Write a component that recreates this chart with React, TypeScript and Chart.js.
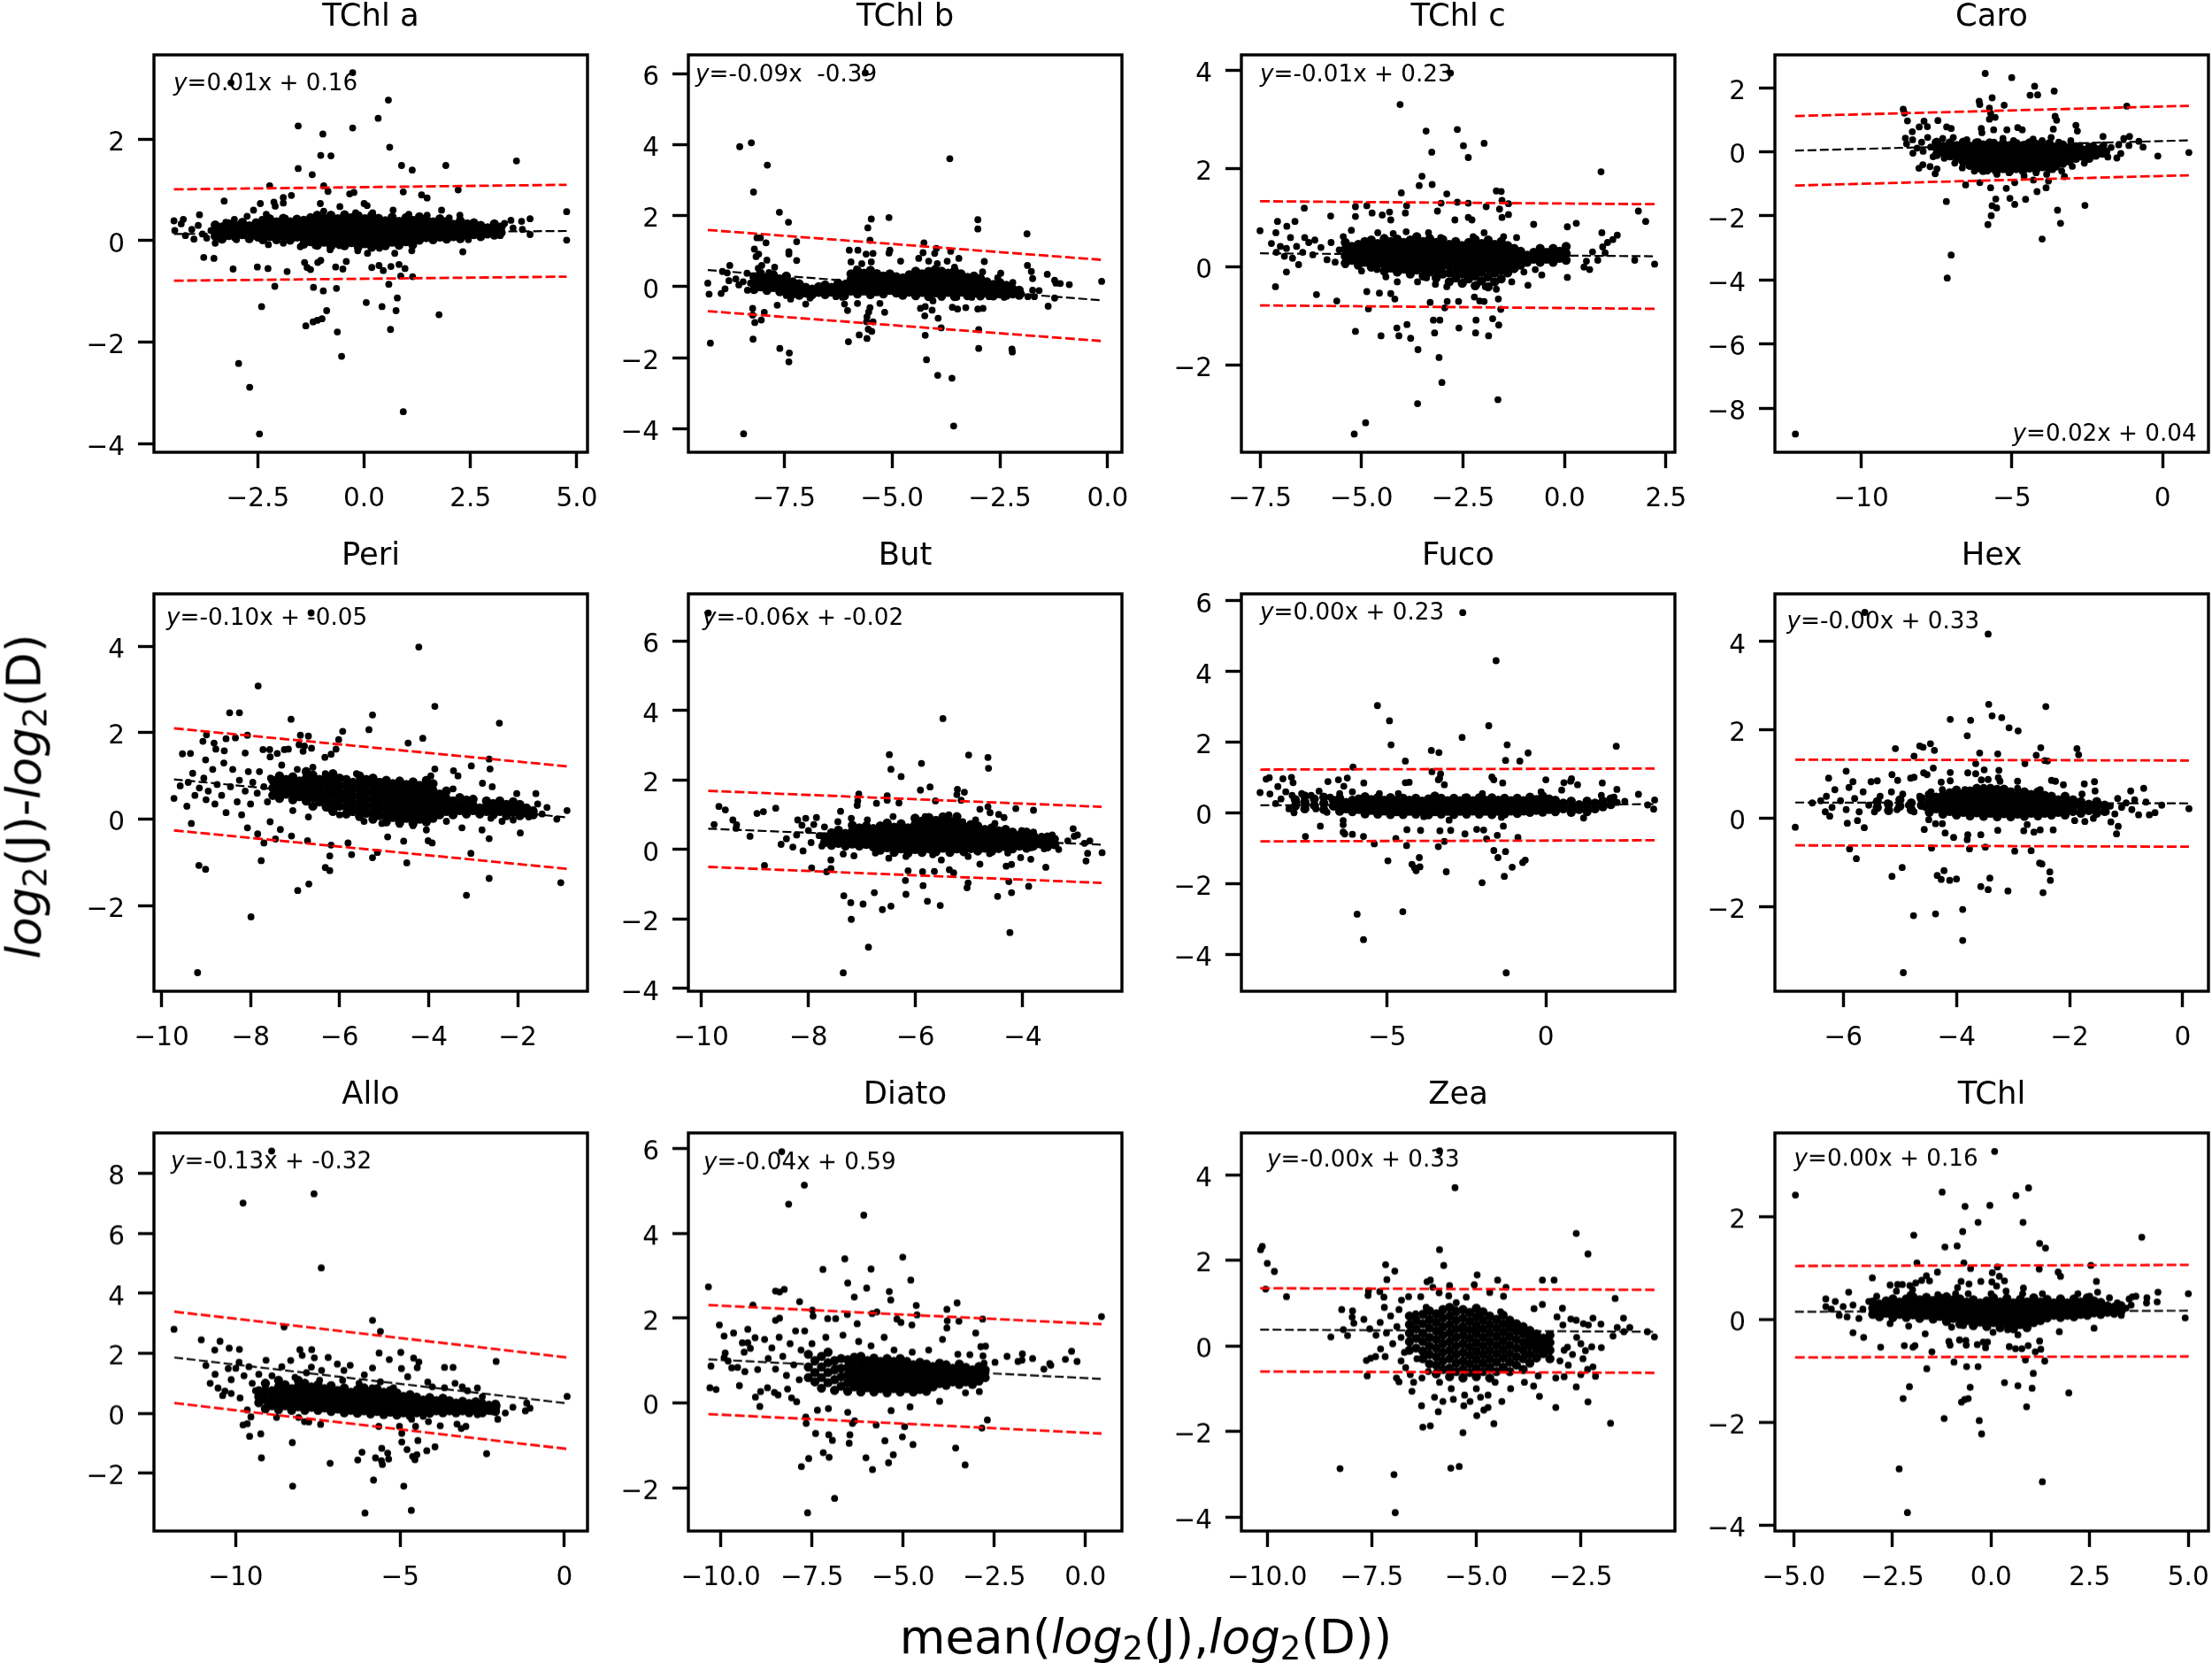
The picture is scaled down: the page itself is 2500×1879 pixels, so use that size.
import React, { useEffect, useRef } from "react";
import { Chart, registerables } from "chart.js";
Chart.register(...registerables);

const FONT = '"DejaVu Sans", sans-serif';
type P = { name: string; eq: string; ax: number; ay: number; col: number; row: number; xr: number[]; yr: number[]; xt: number[]; yt: number[]; dec: number; lx: number[]; b: number[]; u: number[]; l: number[]; pts: number[][]; core: number[][] };
const colL = [174, 778, 1403, 2005.5];
const rowT = [61.5, 670.5, 1280];
const W = 490, H = 449.5;

// Arrays named after a pigment: points (outliers and fringe are the most exact).
// Arrays ending in "Core": [x, y1, y2, ...] columns typed by hand to cover the solid black regions, where single
// points cannot be told apart. They follow the outline of each region and are NOT individual readings.

const tchlA = [[-.27,3.31],[-3.13,3.11],[.57,2.77],[.33,2.41],[-1.55,2.26],[-.27,2.22],[-.97,2.1],[.6,1.84],[-1.02,1.68],[-.78,1.67],[3.58,1.57],[.88,1.48],[1.92,1.48],[1.13,1.39],[-1.55,1.42],[-1.22,1.3],[-2.22,1.08],[-.95,1.08],[2.21,1],[-.85,.97],[.92,.96],[-.34,.92],[-.24,.95],[1.35,.9],[1.48,.84],[-1.71,.89],[-1.9,.85],[-3.29,.78],[-2.12,.76],[-1.9,.74],[-1.03,.73],[0,.73],[.07,.69],[-2.44,.73],[-2.09,.68],[-.57,.67],[4.76,.57],[4.76,.01],[-3.77,-.33],[-3.53,-.35],[-3.08,-.56],[-2.51,-.52],[-2.26,-.55],[-1.81,-.61],[-2.1,-.9],[-1.19,-.92],[-.96,-.99],[-.65,-.94],[.58,-.86],[.86,-.7],[1.14,-.71],[.78,-1.13],[.05,-1.22],[.42,-1.3],[.75,-1.38],[-2.41,-1.3],[-.88,-1.38],[1.76,-1.46],[-.99,-1.54],[-1.1,-1.57],[-1.2,-1.6],[-1.37,-1.68],[-.63,-1.8],[.62,-1.75],[-.53,-2.28],[-2.95,-2.42],[-2.69,-2.89],[.92,-3.37],[-2.46,-3.81],[-1.4,-.43],[-1.34,-.53],[-1.26,-.57],[-1.09,-.43],[-1.02,-.39],[-.67,-.52],[-.5,-.56],[-.42,-.41],[.18,-.53],[.35,-.49],[.45,-.59],[.63,-.51],[.82,-.47],[.96,-.55],[2.32,-.22],
[-4.47,.39],[-4.45,.2],[-4.3,.33],[-4.2,.1],[-4.25,.42],[-4.05,.22],[-4,.03],[-3.9,.3],[-3.8,.13],[-3.87,.51],[-3.7,.05],[-3.6,.2],[-3.5,-.05],[-3.45,.28],[-3.3,.12],[-3.25,.36],[-3.15,.2],[-3,.02],[-3.05,.42],[-2.9,.28],[-2.85,.1],[-2.75,.48],[-2.7,.2],[-2.6,.6],[-2.55,.33],[-2.5,.05],[-2.4,.42],[-2.35,.17],[-2.25,-.08],[-2.3,.52],[-2.05,.38],[-1.9,-.05],[-1.85,.44],[-1.5,-.12],[-1.15,-.1],[-.95,.58],[-.8,-.18],[-.58,-.1],[-.2,.55],[-.15,-.2],[.08,-.25],[.2,.55],[.36,-.15],[.68,.6],[.72,-.25],[1.05,.52],[1.12,-.2],[1.48,.5],[1.82,.6],[2,.45],[2.25,.5],[2.45,.02],[3.2,.1],[3.3,.34],[3.45,.4],[3.7,.38],[3.72,.22],[3.9,.43],[3.9,.12],[3.5,.25]];
const tchlACore = [[-3.5,.09,.21,.31],[-3.34,.03,.16,.27],[-3.18,.1,.22,.33],[-3.02,.06,.18,.3],[-2.86,.12,.24,.36],[-2.7,.04,.16,.29],[-2.54,.1,.23,.35],[-2.38,.02,.13,.27,.38],[-2.22,.08,.2,.32,.43],[-2.06,.02,.15,.26,.37],[-1.9,.09,.21,.33,.44],[-1.74,.01,.13,.25,.37],[-1.58,.07,.19,.31,.42],[-1.42,-.07,.04,.16,.28,.4],[-1.26,-.02,.1,.22,.33,.45],[-1.1,-.09,.03,.15,.27,.39,.5],[-.94,-.03,.09,.21,.32,.44],[-.78,-.11,.02,.14,.26,.38,.5],[-.62,-.05,.08,.2,.32,.43],[-.46,-.1,.03,.15,.27,.39,.51],[-.3,-.04,.09,.21,.33,.45],[-.14,-.12,.01,.13,.25,.37,.49],[.02,-.06,.07,.19,.31,.43],[.18,-.13,.02,.14,.26,.38,.5],[.34,-.05,.08,.2,.32,.44],[.5,-.1,.03,.15,.27,.39],[.66,-.03,.09,.21,.33,.46],[.82,-.09,.02,.14,.26,.38],[.98,-.02,.1,.22,.34,.45],[1.14,-.08,.04,.16,.28,.4],[1.3,.01,.12,.24,.36,.47],[1.46,.06,.18,.3,.42],[1.62,.02,.13,.25,.37],[1.78,.07,.19,.31,.43],[1.94,.03,.15,.27,.38],[2.1,.08,.2,.32],[2.26,.04,.16,.28,.39],[2.42,.1,.22,.33],[2.58,.12,.24,.35],[2.74,.08,.2,.3],[2.9,.13,.25],[3.06,.11,.22,.33],[3.22,.16,.27]];

const tchlB = [[-5.62,6.03],[-8.26,4.06],[-8.53,3.95],[-3.66,3.61],[-7.89,3.43],[-8.21,2.67],[-7.61,2.1],[-7.4,1.82],[-5.48,1.91],[-5.07,1.95],[-3.01,1.89],[-3.01,1.63],[-5.56,1.66],[-1.87,1.49],[-8.13,1.38],[-8.05,1.38],[-7.92,1.24],[-7.21,1.27],[-5.51,1.31],[-4.26,1.24],[-8.19,1.06],[-8.09,.92],[-8.15,.85],[-5.99,1.03],[-5.79,1.03],[-5.05,1.03],[-5.07,.95],[-7.39,.99],[-7.39,.92],[-7.21,.74],[-3.97,1.08],[-3.64,1],[-4.28,.96],[-4.01,.94],[-5.44,.94],[-5.6,.92],[-2.86,.71],[-1.86,.6],[-1.77,.43],[-1.74,.23],[-1.4,.35],[-1.23,.18],[-1.2,.1],[-1.1,.09],[-.89,.06],[-.14,.15],[-1.59,-.11],[-1.74,-.1],[-1.23,-.32],[-1.38,-.55],[-9.27,.1],[-9.24,-.21],[-9.21,-1.59],[-8.96,-.19],[-8.87,-.06],[-8.78,.17],[-8.76,.6],[-8.93,.43],[-8.82,.39],[-8.36,.38],[-8.23,-.61],[-8.23,-.8],[-8.18,-1.01],[-8.03,-.94],[-7.96,-.72],[-8.22,-1.48],[-8.44,-4.15],[-7.6,-1.74],[-7.38,-1.87],[-7.39,-2.12],[-7.66,-.52],[-7,-.49],[-6.1,-.49],[-6.03,-.67],[-5.8,-.47],[-6.01,-1.55],[-5.76,-1.36],[-5.58,-1.46],[-5.51,-.59],[-5.54,-.71],[-5.58,-.85],[-5.59,-.99],[-5.44,-.99],[-5.55,-1.2],[-5.47,-1.26],[-5.17,-.72],[-5.28,-.47],[-4.34,-.61],[-4.23,-.56],[-4.07,-.66],[-4.24,-.82],[-3.93,-.89],[-3.86,-1.16],[-4.23,-1.37],[-4.2,-2.06],[-3.94,-2.5],[-3.61,-2.58],[-3.57,-3.93],[-3.6,-.58],[-3.48,-.63],[-3.29,-.59],[-3.01,-.63],[-2.89,-.61],[-2.99,-1.21],[-2.99,-1.74],[-2.22,-1.76],[-2.21,-1.84],
[-8.62,.22],[-8.55,.05],[-8.45,.14],[-8.35,-.1],[-8.28,.1],[-8.1,.52],[-8.02,.6],[-7.9,.75],[-7.85,.4],[-7.72,.55],[-7.45,-.25],[-7.35,-.35],[-6.9,-.32],[-6.3,-.28],[-6.15,-.3],[-5.95,.7],[-5.82,.5],[-5.7,.65],[-5.48,.7],[-4.8,.72],[-4.38,.8],[-4.15,.72],[-4.05,-.4],[-3.95,.65],[-3.85,-.3],[-3.72,.72],[-3.55,.55],[-3.5,-.3],[-3.45,.8],[-3.15,-.3],[-2.9,.42],[-2.75,-.28],[-2.55,.25],[-2.4,-.3],[-2.2,.12],[-2,-.2],[-1.85,-.28],[-1.7,-.28],[-2.48,.38]];
const tchlBCore = [[-8.2,-.08,.1,.28],[-8.05,0,.18,.38],[-7.9,-.1,.08,.26],[-7.75,-.02,.16,.34],[-7.6,-.14,.04,.22],[-7.45,-.06,.12,.3],[-7.3,-.2,-.03,.14],[-7.15,-.24,-.08,.08],[-7,-.18,-.02],[-6.85,-.22,-.07],[-6.7,-.16,0],[-6.55,-.22,-.07,.05],[-6.4,-.15,-.02],[-6.25,-.2,-.06,.1],[-6.1,-.25,-.1,.05],[-5.95,-.12,.04,.2,.36],[-5.8,-.2,-.06,.12,.3,.45],[-5.65,-.12,.05,.22,.38],[-5.5,-.22,-.05,.12,.3,.46],[-5.35,-.14,.03,.2,.37],[-5.2,-.2,-.04,.14,.3],[-5.05,-.1,.05,.22,.36],[-4.9,-.18,-.02,.15,.28],[-4.75,-.24,-.08,.08,.25],[-4.6,-.15,.02,.18,.34],[-4.45,-.25,-.08,.1,.27,.44],[-4.3,-.16,0,.18,.36],[-4.15,-.28,-.1,.08,.25,.43],[-4,-.18,-.02,.15,.32,.48],[-3.85,-.26,-.08,.1,.28,.44],[-3.7,-.16,.02,.2,.38],[-3.55,-.28,-.1,.08,.26,.45],[-3.4,-.15,.02,.2,.36],[-3.25,-.25,-.08,.1,.26],[-3.1,-.18,-.02,.15,.3],[-2.95,-.26,-.1,.08,.24],[-2.8,-.18,-.02,.14],[-2.65,-.26,-.1,.06],[-2.5,-.2,-.04,.12],[-2.35,-.24,-.1,.04],[-2.2,-.2,-.06],[-2.05,-.24,-.1]];

const tchlC = [[-2.81,3.95],[-4.05,3.31],[-2.64,2.8],[-3.41,2.77],[-1.98,2.52],[-2.49,2.47],[-3.27,2.34],[-2.37,2.23],[.9,1.94],[-3.51,1.85],[-3.58,1.66],[-3.26,1.68],[-1.68,1.55],[-1.56,1.54],[-4.02,1.51],[-2.9,1.49],[-1.54,1.36],[-2.64,1.32],[-2.37,1.3],[-3.04,1.3],[-1.38,1.29],[-5.15,1.23],[-4.87,1.25],[-3.89,1.25],[-6.41,1.2],[-1.93,1.23],[-1.6,1.18],[1.82,1.14],[-3.13,1.14],[-4.31,1.12],[-3.92,1.1],[-1.38,1.07],[-5.76,1.04],[-5.15,1.03],[-4.49,1.06],[-4.74,1.1],[-4.28,.96],[-2.37,1.01],[-1.54,1.01],[-2.7,.96],[-2.28,.96],[2,.93],[.29,.89],[-7.07,.93],[-6.64,.93],[-.76,.87],[.07,.82],[-6.84,.83],[-7.5,.74],[-7.11,.7],[.92,.7],[1.3,.65],[1.19,.56],[1.06,.5],[.94,.41],[1,.29],[.69,.31],[1.73,.14],[2.22,.06],[.48,0],[.62,-.05],[.54,.12],[.82,.14],[-.56,-.16],[.07,-.21],[-6.85,-.1],[-7.12,-.4],[-6.11,-.56],[-5.61,-.69],[-4.87,-.5],[-4.56,-.53],[-4.28,-.54],[-4.18,-.65],[-4.83,-.85],[-5.15,-1.31],[-4.52,-1.4],[-4.13,-1.24],[-4.08,-1.4],[-3.88,-1.17],[-3.79,-1.45],[-3.61,-1.68],[-3.23,-1.08],[-3.07,-1.08],[-3.2,-1.34],[-3.09,-1.84],[-3.02,-2.35],[-3.62,-2.78],[-4.9,-3.17],[-5.18,-3.4],[-1.64,-2.7],[-2.6,-1.24],[-2.18,-1.08],[-2.19,-1.34],[-1.87,-1.4],[-1.77,-1.05],[-1.62,-1.18],[-1.57,-.86],[-2.95,-.83],[-3.31,-.72],[-2.61,-.7],[-2.89,-.7],[-2.22,-.61],[-2.09,-.69],[-1.98,-.7],[-1.63,-.65],[-.9,-.37],
[-7.22,.48],[-7.1,.3],[-7,.42],[-6.9,.22],[-6.85,.38],[-6.75,.6],[-6.7,.18],[-6.6,.42],[-6.55,.05],[-6.45,.3],[-6.4,.6],[-6.3,.5],[-6.2,.25],[-6.15,.55],[-6,.4],[-5.85,.15],[-5.75,.5],[-5.65,.1],[-5.55,.35],[-5.45,.62],[-5.4,.05],[-5.25,.75],[-5,-.08],[-4.62,-.05],[-4.6,.7],[-4.4,-.2],[-4.22,.68],[-4.12,-.3],[-3.9,.72],[-3.62,-.3],[-3.4,-.22],[-3.35,.7],[-3.18,-.35],[-3.05,.6],[-2.9,-.4],[-2.48,-.3],[-2.25,.62],[-2.15,-.35],[-1.98,.7],[-1.95,-.4],[-1.68,-.45],[-1.5,.62],[-1.3,-.3],[-1.18,.6],[-1,-.1],[-.72,-.05]];
const tchlCCore = [[-5.4,.08,.22,.36,.5],[-5.24,.14,.28,.42],[-5.08,.04,.18,.32,.46],[-4.92,.1,.24,.38,.52],[-4.76,0,.13,.27,.4,.55],[-4.6,.06,.2,.34,.48],[-4.44,-.08,.05,.18,.31,.44,.58],[-4.28,-.02,.12,.25,.38,.52],[-4.12,-.1,.03,.16,.3,.43,.57],[-3.96,-.04,.1,.23,.36,.5],[-3.8,-.14,.01,.14,.28,.41,.55],[-3.64,-.06,.08,.21,.34,.48,.62],[-3.48,-.18,-.02,.12,.25,.38,.52],[-3.32,-.1,.04,.18,.3,.44,.58],[-3.16,-.22,-.06,.08,.22,.35,.5],[-3,-.14,.02,.15,.28,.42,.56],[-2.84,-.3,-.12,.04,.18,.31,.46],[-2.68,-.22,-.07,.1,.24,.38,.52],[-2.52,-.33,-.14,.02,.15,.3,.44],[-2.36,-.24,-.08,.08,.22,.36,.5],[-2.2,-.38,-.18,-.02,.14,.28,.42,.56],[-2.04,-.28,-.1,.06,.2,.34,.48],[-1.88,-.4,-.2,-.03,.12,.26,.4,.55],[-1.72,-.3,-.12,.04,.18,.32,.46],[-1.56,-.24,-.07,.1,.24,.38,.52],[-1.4,-.12,.03,.16,.3,.44],[-1.24,-.03,.1,.24,.38],[-1.08,.04,.18,.32],[-.92,.1,.24],[-.76,.16,.3],[-.6,.1,.24,.38],[-.44,.16,.3],[-.28,.1,.24,.38],[-.12,.18,.32],[.04,.14,.28,.42]];

const caro = [[-5.89,2.45],[-5.01,2.32],[-4.25,2.05],[-3.6,1.9],[-4.4,1.77],[-4.15,1.78],[-5.66,1.69],[-6.09,1.58],[-6.07,1.48],[-5.26,1.46],[-1.19,1.43],[-5.75,1.37],[-8.61,1.33],[-8.57,1.21],[-5.71,1.21],[-5.56,1.08],[-5.75,1.02],[-3.57,1.11],[-3.52,.99],[-8.47,.97],[-7.46,.98],[-7.92,.96],[-7.81,.79],[-8.08,.78],[-7.17,.78],[-7.02,.73],[-2.88,.83],[-2.83,.65],[-4.81,.76],[-4.66,.69],[-6.02,.73],[-6,.6],[-8.31,.63],[-5.61,.69],[-5.17,.69],[-3.63,.71],[-1.98,.48],[-1.1,.48],[-1.29,.42],[-.79,.33],[-8.54,.43],[-.65,.15],[-1.71,.14],[-1.12,.2],[-1.46,.22],[-.16,-.13],[.87,-.02],[-1.39,-.05],[-1.52,-.19],[-1.82,-.16],[-8.29,-.04],[-8.09,-.51],[-7.96,-.4],[-7.72,-.46],[-7.49,-.53],[-7.55,-.68],[-6.54,-1.03],[-6.07,-.96],[-7.18,-1.55],[-7.02,-3.22],[-7.15,-3.94],[-12.19,-8.81],[-5.71,-1.12],[-5.19,-1.14],[-5.54,-1.47],[-5.07,-1.45],[-4.91,-1.64],[-4.55,-1.48],[-5.66,-1.68],[-5.51,-1.75],[-5.69,-1.99],[-5.8,-2.27],[-4.17,-1.24],[-3.87,-1.12],[-3.49,-1.82],[-3.39,-2.23],[-4,-2.72],[-2.58,-1.67],[-3.26,-.77],[-3.79,-.91],[-4.29,-.88],[-4.91,-.96],
[-8.5,.25],[-8.3,.38],[-8.15,.12],[-8,.3],[-7.95,.02],[-7.8,.45],[-7.7,.15],[-7.62,-.15],[-7.55,.3],[-7.4,.05],[-7.3,.42],[-7.25,-.2],[-6.95,.45],[-6.9,-.35],[-6.65,-.5],[-6.5,.38],[-6.25,-.6],[-6.12,.32],[-5.82,-.6],[-5.6,.3],[-5.5,-.7],[-5.3,.42],[-5.1,-.65],[-4.95,.35],[-4.6,-.75],[-4.55,.25],[-4.3,.4],[-4.2,-.65],[-4,.35],[-3.85,-.7],[-3.7,.45],[-3.65,-.55],[-3.45,.3],[-3.35,-.6],[-3.05,.35],[-3,-.45],[-2.75,.2],[-2.6,-.35],[-2.3,.2],[-1.95,.22],[-1.85,.02]];
const caroCore = [[-7.5,-.08,.12,.3],[-7.28,-.02,.18],[-7.06,-.12,.08,.28],[-6.84,-.2,0,.2],[-6.62,-.3,-.1,.1,.3],[-6.4,-.42,-.22,-.02,.18],[-6.18,-.5,-.3,-.1,.1,.28],[-5.96,-.58,-.38,-.18,.02,.22],[-5.74,-.5,-.3,-.1,.1,.28],[-5.52,-.6,-.4,-.2,0,.2],[-5.3,-.52,-.32,-.12,.08,.26],[-5.08,-.6,-.4,-.2,0,.2],[-4.86,-.52,-.32,-.12,.08,.26],[-4.64,-.58,-.38,-.18,.02,.2],[-4.42,-.5,-.3,-.1,.1,.28],[-4.2,-.55,-.35,-.15,.05,.24],[-3.98,-.46,-.26,-.06,.14],[-3.76,-.52,-.32,-.12,.08,.26],[-3.54,-.44,-.24,-.04,.16],[-3.32,-.36,-.16,.04,.22],[-3.1,-.28,-.08,.12],[-2.88,-.2,0,.16],[-2.66,-.14,.06],[-2.44,-.2,0,.14],[-2.22,-.1,.08],[-2,-.04,.12]];

const peri = [[-6.64,4.77],[-4.22,3.98],[-7.83,3.08],[-3.86,2.61],[-8.47,2.46],[-8.25,2.46],[-5.26,2.41],[-7.09,2.31],[-2.41,2.22],[-5.34,2.07],[-5.93,2.03],[-8.99,1.95],[-8.07,1.94],[-6.88,1.94],[-6.7,1.92],[-4.13,1.87],[-6.02,1.84],[-8.55,1.86],[-8.34,1.88],[-9.07,1.8],[-8.82,1.76],[-4.46,1.76],[-6.91,1.72],[-6.79,1.69],[-6.08,1.62],[-6.63,1.64],[-8.78,1.62],[-8.59,1.58],[-7.72,1.61],[-7.57,1.61],[-7.24,1.61],[-7.15,1.62],[-6.82,1.57],[-9.53,1.51],[-9.35,1.52],[-8.12,1.53],[-7.4,1.52],[-6.19,1.5],[-9.01,1.37],[-7.56,1.44],[-6.33,1.43],[-2.64,1.39],[-3.04,1.23],[-2.62,1.16],[-3.44,1.12],[-3.34,1],[-2.57,.75],[-2.79,.83],[-3.86,1.16],[-1.59,.59],[-2.02,.59],[-1.34,.27],[-.89,.2],[-1.12,0],[-9.72,.48],[-9.58,.77],[-9.43,.3],[-9.3,1.06],[-9.33,-.1],[-9.16,-1.07],[-9.01,-1.16],[-9.19,-3.55],[-7.99,-2.26],[-6.94,-1.65],[-6.69,-1.5],[-7.76,-.96],[-6.32,-1.12],[-6.22,-1.19],[-6.22,-.85],[-6.19,-.6],[-5.73,-.82],[-5.26,-.89],[-5.15,-.77],[-4.49,-1.01],[-3.05,-.79],[-3.15,-1.76],[-2.64,-1.37],[-1.03,-1.47],[-1.94,-.32],[-2.64,-.45],[-4.01,-.5],[-3.92,-.55],[-4.56,-.51],[-4.92,-.41],[-5.81,-.55],[-6.72,-.5],[-7.08,-.39],[-7.44,-.46],[-7.7,-.55],[-7.84,-.34],[-8.07,-.2],[-7.33,-.24],[-7.56,-.06],
[-9.4,.85],[-9.25,.55],[-9.15,.72],[-9.05,.95],[-9,.45],[-8.95,.65],[-8.85,1.15],[-8.8,.35],[-8.75,.8],[-8.65,.55],[-8.6,1.3],[-8.55,.15],[-8.45,.75],[-8.4,1.15],[-8.3,.4],[-8.25,.9],[-8.2,.1],[-8.12,.65],[-8.05,1.1],[-8,.35],[-7.95,.85],[-7.85,.6],[-7.8,1.1],[-7.7,.75],[-7.62,.4],[-7.55,.95],[-7.3,1.25],[-7.05,.2],[-6.95,1.15],[-6.7,.05],[-6.6,1.2],[-6.25,.25],[-6.32,1.05],[-6,.1],[-5.7,.15],[-5.62,1.05],[-5.45,-.05],[-5.05,-.1],[-4.65,-.12],[-4.35,-.15],[-4.05,-.25],[-3.95,1],[-3.6,-.05],[-3.45,.7],[-3.25,-.2],[-2.8,-.25],[-2.6,.02],[-2.35,-.05],[-2.1,-.02],[-1.75,.05],[-1.65,.22],[-1.55,.35],[-1.45,.12]];
const periCore = [[-7.5,.55,.72,.9],[-7.35,.48,.65,.82,1],[-7.2,.58,.75,.92],[-7.05,.45,.62,.8,.98],[-6.9,.52,.7,.88],[-6.75,.42,.6,.78,.95,1.1],[-6.6,.3,.5,.68,.85,1.02],[-6.45,.4,.58,.75,.92],[-6.3,.28,.46,.62,.8,.98],[-6.15,.18,.36,.54,.7,.88,1.05],[-6,.3,.46,.62,.78,.95],[-5.85,.12,.28,.44,.6,.76,.92],[-5.7,.22,.38,.54,.7,.85],[-5.55,.06,.2,.36,.52,.68,.84,1],[-5.4,.14,.3,.46,.62,.78,.92],[-5.25,0,.16,.32,.48,.64,.8,.95],[-5.1,.08,.24,.4,.55,.7,.85],[-4.95,-.06,.1,.26,.42,.58,.74,.9],[-4.8,.04,.2,.36,.5,.66,.82],[-4.65,-.08,.08,.24,.4,.56,.72,.88],[-4.5,.02,.18,.34,.5,.64,.8],[-4.35,-.1,.06,.22,.38,.54,.7,.86],[-4.2,0,.16,.32,.46,.62,.78],[-4.05,-.06,.1,.26,.42,.58,.72,.9],[-3.9,.02,.18,.34,.5,.66,.82],[-3.75,.1,.26,.42,.58],[-3.6,.18,.32,.48,.65],[-3.45,.1,.25,.42],[-3.3,.2,.32,.5],[-3.15,.12,.28,.44],[-3,.2,.32,.46],[-2.85,.12,.26],[-2.7,.18,.3,.42],[-2.55,.1,.24,.36],[-2.4,.18,.3,.42],[-2.25,.08,.22,.34],[-2.1,.16,.28,.4],[-1.95,.08,.22,.34],[-1.8,.14,.26],[-1.65,.1,.18]];

const but = [[-9.87,6.81],[-5.49,3.77],[-6.49,2.73],[-5.01,2.72],[-4.65,2.65],[-4.64,2.34],[-6.46,2.31],[-5.89,2.48],[-6.27,2.1],[-5.73,1.8],[-5.91,1.71],[-5.22,1.73],[-5.09,1.65],[-7.06,1.6],[-5.23,1.58],[-6.53,1.55],[-5.63,1.4],[-6.53,1.42],[-6.73,1.33],[-6.31,1.34],[-5.15,1.42],[-7.08,1.4],[-7.09,1.27],[-9.67,1.24],[-9.55,1.14],[-8.96,1.04],[-8.84,1.09],[-8.61,1.19],[-9.41,.85],[-9.76,.72],[-9.34,.71],[-9.35,.61],[-9.09,.38],[-8.51,.15],[-8.41,.31],[-8.29,.07],[-8.22,.42],[-8.1,-.04],[-8.82,-.46],[-7.94,-.53],[-7.58,-.3],[-7.66,-.64],[-7.58,-.55],[-7.35,-.13],[-7.15,-.18],[-7.34,-1.33],[-7.21,-1.53],[-6.98,-1.57],[-6.77,-1.24],[-6.62,-1.73],[-6.46,-1.63],[-7.2,-2.01],[-6.88,-2.81],[-7.35,-3.55],[-6.18,-1.29],[-6.19,-.89],[-5.86,-1.04],[-5.78,-1.49],[-5.54,-1.61],[-6.14,-.61],[-5.87,-.64],[-5.65,-.63],[-5.29,-.67],[-5.37,-.58],[-5.02,-.96],[-5.04,-1.1],[-4.47,-1.35],[-4.26,-.92],[-4.21,-1.24],[-3.89,-1.06],[-4.24,-2.39],[-4.8,-.42],[-4.31,-.48],[-4.21,-.43],[-3.57,-.51],[-4.04,-.23],[-3.85,-.28],[-3.33,0],[-2.82,-.33],[-2.79,-.11],[-2.52,-.09],[-2.85,.18],[-2.75,.25],[-3.06,.6],[-3.04,.38],[-2.98,.42],[-3.16,.25],[-3.8,1.13],[-4.13,1.18],[-4.45,1.01],[-4.35,.92],[-4.8,1.16],[-4.65,1.23],[-4.61,1.06],
[-8.2,.85],[-8.12,.7],[-8.05,.9],[-8,.55],[-7.95,.2],[-7.9,.72],[-7.85,.92],[-7.8,.4],[-7.75,.1],[-7.7,.65],[-7.45,.8],[-7.4,1.1],[-7.2,.9],[-6.9,.85],[-6.75,-.1],[-6.5,-.25],[-6.42,.95],[-6.18,-.2],[-5.82,.95],[-5.68,-.15],[-5.52,-.3],[-5.38,1],[-5.12,.8],[-5.02,-.2],[-4.88,.85],[-4.62,-.12],[-4.52,.75],[-4.28,-.1],[-4.02,.55],[-3.85,.05],[-3.8,.5],[-3.72,.2],[-3.65,.38],[-3.6,.02],[-3.52,.22],[-3.45,.42],[-3.38,.15]];
const butCore = [[-7.7,.2,.36],[-7.57,.12,.3,.48],[-7.44,.18,.36,.56],[-7.31,.1,.28,.46],[-7.18,.16,.34,.54,.7],[-7.05,.1,.28,.46,.62],[-6.92,.15,.32,.5,.68],[-6.79,.08,.25,.42,.6],[-6.66,-.02,.15,.32,.5,.68],[-6.53,.05,.22,.4,.58,.76],[-6.4,-.08,.1,.28,.46,.64],[-6.27,.02,.2,.38,.56,.74],[-6.14,-.1,.08,.26,.44,.62],[-6.01,0,.18,.36,.54,.72,.9],[-5.88,-.08,.1,.28,.46,.64,.82],[-5.75,.02,.2,.38,.56,.74,.92],[-5.62,-.06,.12,.3,.48,.66,.84],[-5.49,.04,.22,.4,.58,.76,.94],[-5.36,-.08,.1,.28,.46,.64,.82],[-5.23,.02,.2,.38,.56,.74,.95],[-5.1,-.06,.12,.3,.48,.66],[-4.97,.03,.2,.38,.56,.72],[-4.84,-.04,.14,.32,.5,.68],[-4.71,.04,.22,.4,.58],[-4.58,-.05,.12,.3,.46,.62],[-4.45,.03,.2,.36,.54],[-4.32,.08,.24,.42,.58],[-4.19,.02,.18,.34,.5],[-4.06,.1,.26,.42],[-3.93,.04,.2,.36,.5],[-3.8,.1,.26,.4],[-3.67,.16,.32],[-3.54,.08,.24,.36],[-3.41,.14,.3]];

const fuco = [[-2.62,5.67],[-1.57,4.31],[-5.31,3.04],[-4.93,2.61],[-1.8,2.47],[-2.64,2.14],[-4.88,1.93],[-1.22,1.93],[2.22,1.89],[-3.61,1.77],[-3.37,1.71],[-.56,1.7],[-4.43,1.47],[-1.27,1.49],[-.82,1.47],[-6.08,1.3],[-3.59,1.17],[-3.32,1.11],[-3.35,.98],[-3.39,.94],[-6.26,.99],[-8.82,.96],[-8.72,1],[-8.29,.97],[-8.02,1.01],[-1.7,1.02],[-1.64,.94],[0,.94],[.81,.97],[.78,.9],[-6.54,.94],[-6.87,.89],[-7.97,.86],[-5.74,.85],[-4.43,.86],[-4.31,.87],[-6.37,.76],[1.78,.85],[-1.36,.85],[.57,.86],[1,.8],[-3.2,.8],[3.43,.37],[2.92,.53],[2.24,.67],[3.21,.23],[3.4,.11],[2.49,.33],[-9.01,.58],[-8.7,.54],[-8.52,.27],[-7.94,.01],[-7.11,-.37],[-7.58,-.66],[-6.39,-.21],[-6.39,-.33],[-6.39,-.54],[-6.34,-.59],[-6.1,-.6],[-5.75,-.66],[-5.41,-.87],[-4.73,-.72],[-4.39,-.92],[-4.98,-1.35],[-5.95,-2.86],[-5.75,-3.58],[-4.51,-2.79],[-4.22,-1.45],[-3.99,-1.26],[-4.14,-1.55],[-4.09,-1.63],[-3.97,-1.52],[-3.39,-.95],[-3.2,-.8],[-3.14,-1.66],[-2.01,-1.97],[-1.64,-1.06],[-1.51,-1.26],[-1.27,-1.09],[-1.06,-1.53],[-1.31,-1.79],[-.73,-1.4],[-.65,-1.33],[-1.25,-4.52],[-.88,-.69],[-1.53,-.63],[-1.87,-.73],[-2.55,-.59],[-2.18,-.46],[-1.96,-.48],[1.19,-.14],[-4.38,-.47],[-3.95,-.49],[-3.34,-.5],[-3,-.49],[-1.34,-.37],
[-8.45,.75],[-8.35,.4],[-8.2,.6],[-8.1,.12],[-8,.5],[-7.85,.3],[-7.7,.55],[-7.55,.25],[-7.4,.5],[-7.25,.12],[-7.15,.62],[-7,.3],[-6.9,.02],[-6.8,.45],[-6.65,.18],[-6.5,.55],[-6.1,.6],[-5.25,.55],[-4.65,.55],[-3.85,-.1],[-3.05,-.2],[-2.55,.45],[-2,.55],[-1.4,-.12],[-.15,.6],[.5,.65],[1.75,.5],[2.15,.45],[2.25,.3]];
const fucoCore = [[-7.9,.2,.38],[-7.6,.12,.32,.48],[-7.3,.22,.4],[-7,.1,.28,.45],[-6.7,.2,.36],[-6.5,.05,.25,.42],[-6.3,.12,.3],[-6.1,.04,.2,.36],[-5.9,.1,.25,.4],[-5.7,-.02,.14,.3,.46],[-5.5,.08,.22,.38],[-5.3,-.03,.14,.28,.44],[-5.1,.06,.2,.36],[-4.9,-.04,.12,.28,.44],[-4.7,.04,.2,.36],[-4.5,-.04,.12,.27,.42],[-4.3,.05,.2,.36],[-4.1,-.03,.12,.26,.42],[-3.9,.05,.2,.34],[-3.7,-.05,.1,.25,.4],[-3.5,.04,.18,.34,.48],[-3.3,-.03,.12,.26,.42],[-3.1,.05,.2,.35],[-2.9,-.04,.12,.27,.42],[-2.7,.05,.2,.35],[-2.5,-.03,.12,.28,.43],[-2.3,.06,.2,.35],[-2.1,-.03,.13,.28,.43],[-1.9,.05,.2,.36],[-1.7,-.04,.12,.28,.43],[-1.5,.05,.2,.36],[-1.3,-.02,.13,.28,.42],[-1.1,.06,.2,.35],[-.9,-.01,.14,.28,.42],[-.7,.06,.2,.35],[-.5,.02,.16,.3,.45],[-.3,.08,.22,.38],[-.1,.03,.18,.32,.48],[.1,.1,.25,.4],[.3,.04,.2,.36],[.55,.12,.28],[.8,.02,.18,.34],[1.05,.1,.24],[1.3,.04,.2,.34],[1.55,.12,.28],[1.8,.18,.34],[2.05,.24,.4]];

const hex = [[-5.62,4.66],[-3.44,4.17],[-3.43,2.58],[-2.42,2.53],[-3.37,2.32],[-3.2,2.28],[-4.11,2.24],[-3.75,2.22],[-3.07,2.05],[-2.91,1.98],[-3.81,1.87],[-5.08,1.58],[-4.65,1.64],[-4.59,1.61],[-4.46,1.69],[-4.39,1.54],[-2.51,1.6],[-1.87,1.58],[-1.84,1.44],[-3.59,1.48],[-3.27,1.46],[-2.59,1.43],[-4.75,1.41],[-2.44,1.31],[-2.39,1.3],[-3.66,1.24],[-2.79,1.24],[-4.41,1.14],[-3.51,1.1],[-5.95,1.07],[-3.25,1.09],[-4.11,1.04],[-3.8,1.03],[-3.66,1.01],[-4.58,1.03],[-4.52,.99],[-5.14,.99],[-6.26,.91],[-3.26,.92],[-3.23,.84],[-3.56,.87],[-3.44,.88],[-4.11,.85],[-4.27,.82],[-2.92,.84],[-2.32,.86],[-2.25,.84],[-4.81,.91],[-4.75,.93],[-5.83,.83],[-5.51,.83],[-5.4,.85],[-5.04,.86],[-1.56,.83],[-1.74,.78],[-2.11,.76],[-.69,.68],[-.92,.62],[-.65,.37],[-.37,.3],[.11,.22],[-.49,.13],[-.59,.08],[-.78,.08],[-6.85,-.2],[-6.32,.15],[-6.24,.05],[-5.93,-.11],[-5.75,-.05],[-5.63,-.21],[-5.89,-.69],[-5.77,-.91],[-5.14,-1.31],[-4.96,-1.11],[-4.76,-2.2],[-4.94,-3.49],[-4.37,-2.16],[-3.89,-2.06],[-3.89,-2.76],[-4.34,-1.29],[-4.27,-1.38],[-4.22,-1.18],[-4.12,-1.4],[-4,-1.37],[-3.57,-1.54],[-3.44,-1.61],[-3.41,-1.35],[-3.09,-1.64],[-2.47,-1.68],[-2.53,-1.01],[-2.49,-1.03],[-2.35,-1.21],[-2.34,-1.4],[-2.97,-.74],[-2.68,-.73],[-3.77,-.69],[-3.49,-.65],[-4.44,-.67],[-4.05,-.43],[-3.81,-.48],[-3.8,-.37],[-3.57,-.37],[-4.57,-.25],[-4.37,-.12],[-4.2,-.33],[-4.25,-.12],[-4.49,-.03],[-3.27,-.27],[-2.81,-.28],[-2.63,-.31],[-2.52,-.26],[-2.29,-.26],[-2.75,-.14],[-1.17,-.35],[-1.14,-.18],[-1.27,-.08],[-1.73,-.07],[-1.58,0],[-1.91,-.05],
[-6.55,.35],[-6.4,.4],[-6.3,.5],[-6.2,.25],[-6.15,.65],[-6.05,.4],[-5.95,.2],[-5.9,.7],[-5.8,.45],[-5.72,.15],[-5.65,.6],[-5.55,.3],[-5.45,.15],[-5.35,.5],[-5.22,.35],[-5.15,.6],[-5.05,.2],[-4.95,.55],[-4.85,.3],[-4.75,.15],[-4.65,.5],[-4.55,.25],[-4.45,.6],[-4.25,.65],[-3.85,.65],[-3.52,.7],[-3.28,.68],[-2.92,.68],[-2.52,.65],[-1.78,.55],[-1.55,.62],[-1.42,.3],[-1.35,.15],[-1.28,.28],[-1.2,.1],[-1.15,.45],[-1.08,.25],[-1,.35],[-.9,.2],[-.85,.42]];
const hexCore = [[-5.4,.25,.38],[-5.2,.18,.32],[-5,.28,.42],[-4.8,.2,.35],[-4.62,.3,.45],[-4.48,.14,.26,.4,.54],[-4.36,.22,.35,.48],[-4.24,.1,.24,.38,.52],[-4.12,.16,.3,.44,.58],[-4,.08,.22,.36,.5,.64],[-3.88,.14,.28,.42,.56],[-3.76,.06,.2,.34,.48,.62],[-3.64,.13,.27,.41,.55,.68],[-3.52,.05,.18,.32,.46,.6],[-3.4,.12,.26,.4,.54,.68],[-3.28,.04,.18,.32,.46,.6],[-3.16,.11,.25,.39,.53,.66],[-3.04,.04,.18,.32,.46,.6],[-2.92,.1,.24,.38,.52],[-2.8,.05,.18,.32,.46,.6],[-2.68,.12,.26,.4,.54],[-2.56,.06,.2,.34,.48,.6],[-2.44,.12,.26,.4,.52],[-2.32,.08,.22,.36,.5],[-2.2,.14,.28,.42],[-2.08,.08,.22,.36,.5],[-1.94,.16,.3,.42],[-1.8,.12,.26,.38],[-1.66,.18,.32],[-1.52,.12,.26,.38],[-1.38,.16,.3]];

const allo = [[-8.91,8.75],[-7.62,7.32],[-9.78,7.01],[-7.4,4.85],[-5.84,3.1],[-5.6,2.73],[-8.53,2.88],[-11.88,2.8],[-11.05,2.45],[-10.48,2.4],[-10.64,2.11],[-10.2,2.17],[-9.89,2.13],[-8.05,2.12],[-7.69,2.12],[-5.64,2.01],[-4.98,2.03],[-7.19,1.86],[-5.33,1.79],[-4.59,1.84],[-4.43,1.71],[-2.08,1.73],[-6.91,1.64],[-6.52,1.6],[-4.48,1.52],[-3.65,1.53],[-3.39,1.53],[-5.84,1.51],[-4.96,1.49],[-10.91,1.59],[-10.23,1.49],[-9.08,1.77],[-8.33,1.76],[-7.98,1.93],[-7.61,1.85],[-7.7,1.54],[-7.39,1.43],[-6.71,1.43],[-6.09,1.28],[-4.77,1.22],[-4.16,1.04],[-3.33,1],[-4.02,.88],[-3.65,.85],[-3.11,.88],[-2.65,.84],[-10.78,1],[-10.63,1.3],[-10.14,1.12],[-10.54,.84],[-10.33,.74],[-10.4,.59],[-10.14,.66],[-9.87,.51],[.08,.56],[-1.15,.34],[-1.05,.17],[-1.19,.08],[-1.57,.2],[-1.8,.01],[-2.03,-.2],[-9.65,.11],[-9.54,-.12],[-9.78,-.39],[-9.65,-.35],[-9.58,-.77],[-9.24,-.69],[-9.22,-1.49],[-8.28,-.98],[-8.27,-2.43],[-7.13,-1.67],[-8.76,-.14],[-8.09,-.14],[-7.91,-.28],[-7.78,-.29],[-7.42,-.37],[-6.29,-1.56],[-6.16,-1.3],[-5.75,-1.49],[-5.56,-1.17],[-5.57,-1.58],[-5.54,-1.71],[-5.38,-1.33],[-5.35,-1.53],[-5.81,-2.23],[-6.07,-3.33],[-4.89,-2.43],[-4.66,-3.24],[-4.95,-.67],[-4.95,-.96],[-4.79,-1.21],[-4.62,-1.44],[-4.49,-1.38],[-4.55,-1.55],[-4.46,-.91],[-4.19,-1.25],[-3.94,-1.12],[-2.37,-1.35],[-3.78,-.42],[-4.14,-.28],[-3.27,-.36],[-3.14,-.51],[-3,-.44],[-5.65,-.44],[-5.02,-.44],[-4.53,-.44],
[-10,1.5],[-9.9,1.7],[-9.75,1.25],[-9.6,1.55],[-9.5,1],[-9.4,.75],[-9.3,1.3],[-9.2,.5],[-9.1,.9],[-9,.3],[-8.9,1.25],[-8.6,1.55],[-8.2,1.2],[-7.85,1.35],[-7.45,1.1],[-6.75,1.1],[-6.25,1],[-5.85,.85],[-5.6,1.05],[-5.2,.85],[-4.65,-.2],[-4.3,-.1],[-2.95,.75],[-2.65,-.05],[-2.6,.25],[-2.5,.55],[-2.4,.1],[-2.3,.3],[-2.2,.05],[-2.05,.25]];
const alloCore = [[-9.3,.35,.55,.75],[-9.1,.15,.45,.7,1],[-8.9,.25,.5,.75],[-8.7,.12,.38,.62,.88,1.1],[-8.5,.25,.48,.72,.95],[-8.3,.1,.35,.58,.82],[-8.1,.22,.45,.68,.9,1.1],[-7.9,.1,.32,.55,.78,1],[-7.7,.2,.42,.65,.88],[-7.5,.1,.3,.52,.75,.95],[-7.3,.18,.38,.6,.82],[-7.1,.06,.26,.48,.7,.92],[-6.9,.14,.34,.55,.76],[-6.7,.02,.22,.42,.62,.84],[-6.5,.1,.3,.5,.7],[-6.3,0,.18,.38,.58,.78],[-6.1,.08,.26,.46,.65,.85],[-5.9,-.02,.16,.36,.55,.74],[-5.7,.06,.24,.42,.62,.82],[-5.5,-.04,.14,.32,.52,.7],[-5.3,.04,.22,.4,.58,.76],[-5.1,-.06,.12,.3,.5,.68],[-4.9,.02,.2,.38,.56],[-4.7,-.08,.1,.28,.46,.62],[-4.5,.02,.18,.36,.54],[-4.3,.08,.26,.44],[-4.1,0,.16,.34,.52],[-3.9,.08,.24,.42],[-3.7,.02,.18,.34,.5],[-3.5,.08,.24,.42],[-3.3,.02,.18,.34],[-3.1,.08,.24,.4],[-2.9,.02,.18,.32],[-2.7,.08,.22,.38],[-2.5,.02,.18,.32],[-2.3,.1,.24],[-2.1,.06,.18,.3]];

const diato = [[-8.33,5.93],[-7.71,5.14],[-8.14,4.69],[-6.08,4.43],[-5.01,3.44],[-6.6,3.4],[-7.2,3.15],[-5.88,3.16],[-4.79,2.9],[-6.52,2.83],[-10.34,2.74],[-6,2.71],[-5.38,2.63],[-8.5,2.64],[-8.39,2.62],[-8.26,2.68],[-6.34,2.5],[-5.34,2.43],[-7.84,2.39],[-3.52,2.36],[-9.12,2.31],[-4.64,2.3],[-3.8,2.21],[-7.49,2.19],[-5.72,2.15],[-5.85,2.11],[.44,2.04],[-4.62,2.08],[-7.47,2.05],[-6.53,2.09],[-8.39,2],[-7.07,1.99],[-6.85,1.99],[-5.17,1.98],[-2.82,1.98],[-8.5,1.95],[-3.79,1.94],[-3.47,1.93],[-5.06,1.9],[-10.04,1.84],[-6.26,1.87],[-4.76,1.84],[-3.8,1.77],[-9.26,1.74],[-3.01,1.65],[-9.65,1.65],[-9.91,1.58],[-9.06,1.54],[-9.41,1.42],[-9.26,1.42],[-9.19,1.29],[-9.36,1.2],[-9.88,1.18],[-9.91,1.07],[-9.8,.99],[-9.7,.83],[-9.54,.84],[-10.27,.87],[-9.34,.74],[-8.99,.79],[-10.3,.36],[-10.13,.32],[-9.49,.41],[-9.05,.14],[-8.91,.27],[-8.93,-.08],[-8.72,.36],[-8.53,.25],[-8.43,.19],[-8.17,.33],[-8.06,.12],[-7.92,.03],[-.38,1.22],[-1.73,1.16],[-2.15,1.1],[-1.45,1.05],[-1.74,1.01],[-1.85,.98],[-.55,1.03],[-.23,.98],[-.98,.93],[-.95,.89],[-1.14,.8],[-2.48,.96],[-2.87,1.33],[-2.74,1.34],[-3.17,1.14],[-2.81,1.11],[-2.78,.94],[-7.67,-.33],[-7.66,-.48],[-7.4,-.72],[-7.04,-.75],[-6.94,-.88],[-6.46,-.75],[-6.48,-.95],[-6.33,-.42],[-6.39,-.48],[-5.74,-.52],[-5.5,-.89],[-5.02,-.8],[-4.96,-.56],[-4.73,-.98],[-2.84,-.59],[-2.69,-.4],[-3.56,-1.06],[-3.3,-1.46],[-5.27,-1.22],[-5.4,-1.41],[-6.02,-1.29],[-5.84,-1.57],[-7.19,-1.17],[-7.03,-1.28],[-7.59,-1.31],[-7.79,-1.5],[-6.88,-2.25],[-7.62,-2.59],[-7.35,-.17],[-7.05,-.13],[-6.52,-.22],[-5.33,-.18],[-4.81,-.09],[-4,.04],[-2.91,.27],[-3.29,.24],
[-8.8,1.5],[-8.7,1.05],[-8.6,1.3],[-8.5,.8],[-8.4,1.55],[-8.3,1.1],[-8.2,.65],[-8.1,1.4],[-8,.9],[-7.95,1.7],[-7.85,.55],[-7.8,1.25],[-7.7,1.7],[-7.5,1.4],[-7.12,1.55],[-6.65,1.6],[-6.22,1.45],[-5.88,1.35],[-5.52,1.55],[-5.25,1.25],[-4.75,1.2],[-4.3,1.25],[-3.92,1.5],[-3.5,1.15]];
const diatoCore = [[-7.6,.6,.85,1.15],[-7.42,.5,.72,1],[-7.24,.35,.6,.85,1.1],[-7.06,.48,.72,.95,1.2],[-6.88,.3,.55,.78,1],[-6.7,.4,.62,.82,1.05],[-6.52,.28,.48,.66,.84,1.02],[-6.34,.38,.55,.72,.9,1.08],[-6.16,.26,.44,.6,.76,.94,1.1],[-5.98,.36,.52,.68,.84,1],[-5.8,.26,.42,.58,.74,.9,1.06],[-5.62,.34,.5,.66,.82,.98],[-5.44,.24,.42,.58,.74,.9,1.05],[-5.26,.34,.5,.66,.82,.98],[-5.08,.26,.42,.58,.74,.9,1.05],[-4.9,.34,.5,.66,.82,.98],[-4.72,.26,.42,.58,.74,.9],[-4.54,.32,.48,.64,.8,.96],[-4.36,.28,.44,.6,.76,.92],[-4.18,.38,.54,.7,.86],[-4,.46,.62,.78,.94],[-3.82,.42,.58,.74,.9],[-3.64,.5,.66,.82],[-3.46,.44,.6,.76,.92],[-3.28,.5,.68,.84],[-3.1,.44,.6,.78],[-2.92,.52,.7,.86],[-2.75,.6,.78]];

const zea = [[-5.88,4.56],[-5.51,3.7],[-2.61,2.63],[-2.33,2.15],[-10.12,2.33],[-10.16,2.25],[-10,1.93],[-9.83,1.74],[-5.88,2.25],[-5.78,1.88],[-7.17,1.9],[-6.95,1.75],[-7.14,1.55],[-4.98,1.66],[-4.49,1.54],[-3.42,1.54],[-3.14,1.54],[-6.18,1.5],[-6.1,1.54],[-5.64,1.41],[-5.05,1.43],[-4.29,1.37],[-10.04,1.33],[-7.58,1.29],[-7.31,1.27],[-6.04,1.37],[-5.89,1.24],[-4.68,1.25],[-9.54,1.15],[-7.59,1.18],[-6.62,1.15],[-6.33,1.15],[-5.66,1.17],[-5.24,1.14],[-4.35,1.16],[-1.68,1.11],[-7.21,1.14],[-6.79,1.07],[-3.42,.97],[-5.48,1.01],[-3.62,.87],[-2.94,.88],[-8.22,.85],[-7.96,.82],[-7.97,.67],[-7.69,.62],[-7.93,.53],[-3.07,.68],[-2.74,.63],[-2.61,.6],[-2.21,.65],[-1.48,.65],[-2.02,.51],[-2.93,.49],[-2.44,.52],[-2.32,.49],[-1.63,.43],[-1.33,.43],[-1.47,.33],[-.91,.33],[-.74,.21],[-1.73,.23],[-8.48,.21],[-8.18,.38],[-8.08,.24],[-2.01,-.04],[-2.24,-.02],[-2.39,-.11],[-2.82,-.03],[-8.26,-2.87],[-6.97,-3.01],[-6.94,-3.9],[-5.61,-2.86],[-5.41,-2.82],[-6.28,-1.9],[-6.1,-1.87],[-5.32,-2.03],[-4.58,-1.82],[-1.79,-1.81],[-6.31,-1.4],[-5.91,-1.54],[-6.54,-1.06],[-4.99,-1.63],[-4.82,-1.5],[-4.72,-1.44],[-4.39,-1.3],[-3.49,-1.18],[-3.1,-1.44],[-2.33,-1.31],[-2.61,-.96],[-3.63,-.94],[-2.15,-.71],[-2.9,-.72],[-2.5,-.67],[-2.21,-.49],[-2.34,-.55],[-7.61,-.7],[-6.91,-.75],[-6.85,-.84],[-7.63,-.34],[-7.53,-.29],[-7.41,-.25],[-7.18,-.25],[-7.29,-.07],[-6.69,-.51],[-6.58,-.67],
[-7.55,.4],[-7.4,.25],[-7.3,.55],[-7.2,.9],[-7.15,.3],[-7.05,.7],[-7,.05],[-6.9,.45],[-6.85,.85],[-6.8,.2],[-6.72,-.15],[-6.45,.75],[-6.42,-.3],[-6.2,.9],[-6.15,-.6],[-5.88,-.85],[-5.82,.8],[-5.6,-1],[-5.5,.85],[-5.28,-1.15],[-5.2,.8],[-5,-1],[-4.92,.75],[-4.72,-1.15],[-4.55,-.85],[-4.42,.8],[-4.18,-1],[-3.85,-.85],[-3.52,-.7],[-3.1,-.75],[-3,-.35],[-2.9,-.1],[-2.8,-.45],[-2.7,-.2],[-2.6,.2],[-2.5,.05],[-2.45,-.3],[-6.8,-.35],[-6.5,-.85],[-6.3,-.75],[-6,-1.2],[-5.8,-1.3],[-5.55,-1.25],[-5.3,-1.4],[-5.15,-1.3],[-4.9,-1.2]];
const zeaCore = [[-6.6,-.1,.1,.3,.5,.7],[-6.44,-.05,.18,.4,.6],[-6.28,-.3,-.12,.1,.3,.52,.74],[-6.12,-.42,-.2,0,.2,.42,.62,.82],[-5.96,-.65,-.45,-.25,-.05,.15,.35,.55,.75],[-5.8,-.55,-.35,-.15,.05,.25,.45,.65,.85],[-5.64,-.72,-.52,-.3,-.1,.1,.3,.5,.7,.9],[-5.48,-.6,-.4,-.2,0,.2,.4,.6,.8],[-5.32,-.75,-.55,-.35,-.15,.05,.25,.45,.65,.85],[-5.16,-.62,-.42,-.22,-.02,.18,.38,.58,.78],[-5,-.72,-.52,-.32,-.12,.08,.28,.48,.68,.88],[-4.84,-.6,-.4,-.2,0,.2,.4,.6,.8],[-4.68,-.75,-.5,-.3,-.1,.1,.3,.5,.7],[-4.52,-.6,-.38,-.18,.02,.22,.42,.62],[-4.36,-.5,-.28,-.08,.12,.32,.52,.72],[-4.2,-.6,-.38,-.18,.02,.22,.42,.6],[-4.04,-.45,-.25,-.05,.15,.35,.52],[-3.88,-.55,-.3,-.1,.08,.28,.45],[-3.72,-.4,-.2,0,.18,.36],[-3.56,-.28,-.08,.1,.28],[-3.4,-.18,0,.18],[-3.24,-.3,-.1,.08,.25]];

const tchl = [[.09,3.27],[.95,2.56],[-1.24,2.48],[-4.96,2.42],[.63,2.41],[-.66,2.2],[-.03,2.22],[-.33,1.89],[.81,1.89],[-.72,1.71],[-1.96,1.64],[3.82,1.6],[-1.17,1.41],[-.86,1.43],[1.23,1.48],[1.38,1.39],[-1.88,1.1],[-.69,1.1],[2.53,1.05],[-.52,.99],[.16,1.02],[1.22,.98],[-1.36,.92],[.03,.91],[1.7,.92],[.21,.84],[1.76,.84],[-3.01,.81],[-1.64,.85],[2.67,.74],[-1.76,.76],[-1.56,.75],[-1.91,.71],[-.76,.74],[-.26,.74],[.34,.75],[.02,.73],[-2.56,.67],[-2.37,.68],[-2.25,.68],[-2.06,.66],[-.56,.69],[.14,.65],[.82,.61],[-1.99,.58],[-.85,.62],[2.7,.53],[4.23,.53],[-3.61,.53],[5,.5],[3.95,.42],[4.21,.34],[3.94,.32],[3.67,.45],[3.58,.44],[4.92,.03],[-4.19,.4],[-4.19,.25],[-3.5,-.26],[-3.23,-.35],[-2.8,-.54],[-2.2,-.51],[-1.98,-.54],[-1.93,-.51],[-1.5,-.63],[-1.67,-.28],[-2.56,-.08],[-2.09,-.13],[-.94,-.83],[-.62,-.92],[-.33,-.92],[-1.63,-.96],[-1.04,-.5],[-1.07,-.43],[-.8,-.4],[-.64,-.41],[-.63,-.5],[-.35,-.49],[-.2,-.44],[-.09,-.44],[-.14,-.55],[.46,-.53],[.62,-.57],[.78,-.57],[.94,-.51],[1.12,-.63],[1.26,-.58],[1.23,-.42],[.87,-.79],[1.36,-.81],[1.07,-1.05],[-2.07,-1.31],[-2.23,-1.54],[-.53,-1.32],[-.75,-1.61],[-.67,-1.56],[-.58,-1.54],[.34,-1.23],[.68,-1.29],[1.04,-1.34],[1.97,-1.43],[.9,-1.7],[-1.19,-1.93],[-.3,-1.97],[-.24,-2.23],[-2.33,-2.91],[1.3,-3.16],[-2.12,-3.76],[2.61,-.17],[1.73,-.24],
[-4.05,.2],[-3.95,.35],[-3.85,.08],[-3.75,.25],[-3.65,.05],[-3.5,.28],[-3.35,.02],[-3.25,.2],[-3.1,.35],[-2.9,.45],[-2.4,.55],[-2.05,.48],[-1.35,.48],[-1,-.15],[-.9,.5],[-.7,-.12],[-.58,.5],[0,.5],[.05,-.25],[.38,.55],[.42,-.2],[.68,-.3],[.8,.5],[1.3,.5],[2.2,.5],[2.5,.45],[3,.42],[3.2,.32],[3.3,.08],[3.42,.22],[3.5,.4],[3.55,.28]];
const tchlCore = [[-3,.1,.22,.34],[-2.83,.05,.17,.3],[-2.66,.12,.24,.36],[-2.49,.04,.16,.28,.4],[-2.32,.1,.22,.34],[-2.15,.04,.16,.28,.4],[-1.98,.09,.21,.33,.44],[-1.81,.02,.14,.26,.38],[-1.64,.08,.2,.32,.43],[-1.47,.01,.13,.25,.37],[-1.3,.06,.18,.3,.42],[-1.13,-.04,.08,.2,.32,.44],[-.96,.02,.14,.26,.38],[-.79,-.09,.04,.16,.28,.4],[-.62,-.02,.1,.22,.34],[-.45,-.12,.02,.14,.26,.38],[-.28,-.05,.08,.2,.32],[-.11,-.14,0,.12,.24,.36],[.06,-.06,.06,.18,.3,.42],[.23,-.16,-.02,.1,.22,.34],[.4,-.08,.05,.17,.29,.41],[.57,-.18,-.04,.08,.2,.32],[.74,-.1,.03,.15,.27,.39],[.91,-.16,-.02,.1,.22,.34],[1.08,-.06,.06,.18,.3,.42],[1.25,-.02,.1,.22,.34],[1.42,.03,.15,.27,.39],[1.59,.08,.2,.32],[1.76,.04,.16,.28,.4],[1.93,.08,.2,.32],[2.1,.05,.17,.29,.4],[2.27,.1,.22,.34],[2.44,.08,.2,.32,.42],[2.61,.13,.25,.36],[2.78,.1,.22,.33],[2.95,.14,.26],[3.12,.12,.24],[3.29,.15,.27]];

const panels: P[] = [
 {name:"TChl a",eq:"=0.01x + 0.16",ax:196,ay:101,col:0,row:0,xr:[-4.94,5.25],yr:[-4.17,3.66],xt:[-2.5,0,2.5,5],yt:[-4,-2,0,2],dec:1,lx:[-4.47,4.76],b:[0.13,0.19],u:[1.01,1.10],l:[-0.79,-0.71],pts:tchlA,core:tchlACore},
 {name:"TChl b",eq:"=-0.09x  -0.39",ax:786,ay:91,col:1,row:0,xr:[-9.72,0.33],yr:[-4.67,6.54],xt:[-7.5,-5,-2.5,0],yt:[-4,-2,0,2,4,6],dec:1,lx:[-9.27,-0.16],b:[0.47,-0.38],u:[1.6,0.76],l:[-0.69,-1.53],pts:tchlB,core:tchlBCore},
 {name:"TChl c",eq:"=-0.01x + 0.23",ax:1424,ay:91,col:2,row:0,xr:[-7.96,2.72],yr:[-3.77,4.32],xt:[-7.5,-5,-2.5,0,2.5],yt:[-2,0,2,4],dec:1,lx:[-7.5,2.22],b:[0.28,0.22],u:[1.34,1.28],l:[-0.78,-0.85],pts:tchlC,core:tchlCCore},
 {name:"Caro",eq:"=0.02x + 0.04",ax:2274,ay:497.5,col:3,row:0,xr:[-12.87,1.52],yr:[-9.38,3.03],xt:[-10,-5,0],yt:[-8,-6,-4,-2,0,2],dec:0,lx:[-12.2,0.87],b:[0.04,0.36],u:[1.12,1.44],l:[-1.05,-0.73],pts:caro,core:caroCore},
 {name:"Peri",eq:"=-0.10x + -0.05",ax:188,ay:705,col:0,row:1,xr:[-10.17,-0.43],yr:[-3.98,5.21],xt:[-10,-8,-6,-4,-2],yt:[-2,0,2,4],dec:0,lx:[-9.72,-0.88],b:[0.92,0.04],u:[2.1,1.22],l:[-0.26,-1.15],pts:peri,core:periCore},
 {name:"But",eq:"=-0.06x + -0.02",ax:794,ay:705,col:1,row:1,xr:[-10.24,-2.15],yr:[-4.08,7.36],xt:[-10,-8,-6,-4],yt:[-4,-2,0,2,4,6],dec:0,lx:[-9.87,-2.53],b:[0.6,0.14],u:[1.69,1.23],l:[-0.5,-0.96],pts:but,core:butCore},
 {name:"Fuco",eq:"=0.00x + 0.23",ax:1424,ay:699,col:2,row:1,xr:[-9.6,4.07],yr:[-5.04,6.2],xt:[-5,0],yt:[-4,-2,0,2,4,6],dec:0,lx:[-9,3.43],b:[0.22,0.25],u:[1.23,1.26],l:[-0.8,-0.77],pts:fuco,core:fucoCore},
 {name:"Hex",eq:"=-0.00x + 0.33",ax:2019,ay:709.5,col:3,row:1,xr:[-7.21,0.455],yr:[-3.91,5.08],xt:[-6,-4,-2,0],yt:[-2,0,2,4],dec:0,lx:[-6.85,0.11],b:[0.36,0.34],u:[1.33,1.31],l:[-0.61,-0.64],pts:hex,core:hexCore},
 {name:"Allo",eq:"=-0.13x + -0.32",ax:193,ay:1319.5,col:0,row:2,xr:[-12.49,0.7],yr:[-3.93,9.35],xt:[-10,-5,0],yt:[-2,0,2,4,6,8],dec:0,lx:[-11.87,0.08],b:[1.86,0.33],u:[3.39,1.86],l:[0.34,-1.19],pts:allo,core:alloCore},
 {name:"Diato",eq:"=-0.04x + 0.59",ax:795,ay:1321,col:1,row:2,xr:[-10.89,1],yr:[-3.02,6.37],xt:[-10,-7.5,-5,-2.5,0],yt:[-2,0,2,4,6],dec:1,lx:[-10.34,0.44],b:[1.03,0.57],u:[2.31,1.86],l:[-0.26,-0.72],pts:diato,core:diatoCore},
 {name:"Zea",eq:"=-0.00x + 0.33",ax:1432,ay:1317.6,col:2,row:2,xr:[-10.62,-0.25],yr:[-4.33,4.98],xt:[-10,-7.5,-5,-2.5],yt:[-4,-2,0,2,4],dec:1,lx:[-10.17,-0.74],b:[0.38,0.33],u:[1.35,1.31],l:[-0.6,-0.63],pts:zea,core:zeaCore},
 {name:"TChl",eq:"=0.00x + 0.16",ax:2027,ay:1317,col:3,row:2,xr:[-5.48,5.51],yr:[-4.12,3.63],xt:[-5,-2.5,0,2.5,5],yt:[-4,-2,0,2],dec:1,lx:[-4.97,5.01],b:[0.15,0.17],u:[1.04,1.06],l:[-0.74,-0.72],pts:tchl,core:tchlCore},
];
const PADL = 120, PADT = 70, PADR = 60, PADB = 90;
const fmt = (v: number, d: number) => (v < 0 ? "\u2212" : "") + Math.abs(v).toFixed(d);

function Panel({ p }: { p: P }) {
  const ref = useRef<HTMLCanvasElement>(null);
  useEffect(() => {
    const left = colL[p.col], top = rowT[p.row];
    const frame = {
      id: "frame",
      afterDatasetsDraw(c: any) {
        const a = c.chartArea, g = c.ctx;
        g.save();
        g.lineWidth = 3.4; g.strokeStyle = "#000"; g.strokeRect(a.left, a.top, a.right - a.left, a.bottom - a.top);
        g.fillStyle = "#000"; g.textBaseline = "alphabetic";
        g.font = `35.4px ${FONT}`; g.textAlign = "center";
        g.fillText(p.name, (a.left + a.right) / 2, a.top - 33);
        g.textAlign = "left";
        const x0 = p.ax - left + PADL, y0 = p.ay - top + PADT;
        g.font = `italic 26.2px ${FONT}`; g.fillText("y", x0, y0);
        const w = g.measureText("y").width;
        g.font = `26.2px ${FONT}`; g.fillText(p.eq, x0 + w, y0);
        g.restore();
      },
    };
    const line = (d: number[], color: string, lw: number, dash: number[], order: number) => ({
      type: "scatter", data: [{ x: p.lx[0], y: d[0] }, { x: p.lx[1], y: d[1] }], showLine: true, pointRadius: 0,
      borderColor: color, borderWidth: lw, borderDash: dash, order,
    });
    const corePts = p.core.flatMap(([x, ...ys]) => ys.map((y) => ({ x, y })));
    const chart = new Chart(ref.current!, {
      type: "scatter",
      plugins: [frame],
      data: { datasets: [
        line(p.u, "#ff0000", 2.8, [11, 4], 0), line(p.l, "#ff0000", 2.8, [11, 4], 0),
        { type: "scatter", data: p.pts.map(([x, y]) => ({ x, y })), pointRadius: 3.9, pointBackgroundColor: "#000", pointBorderWidth: 0, order: 1 },
        { type: "scatter", data: corePts, pointRadius: 5.2, pointBackgroundColor: "#000", pointBorderWidth: 0, order: 1 },
        line(p.b, "#000000", 2.2, [10, 4], 2),
      ] as any },
      options: {
        animation: false, responsive: false, devicePixelRatio: 1,
        layout: { padding: { left: 0, top: PADT, right: PADR, bottom: 0 } },
        plugins: { legend: { display: false }, tooltip: { enabled: false }, title: { display: false } },
        scales: {
          x: { type: "linear", min: p.xr[0], max: p.xr[1],
            afterBuildTicks: (s: any) => { s.ticks = p.xt.map((value) => ({ value })); },
            afterFit: (s: any) => { s.height = PADB; s.paddingLeft = 0; s.paddingRight = 0; },
            border: { display: false },
            grid: { drawOnChartArea: false, drawTicks: true, tickLength: 18, tickWidth: 3.4, tickColor: "#000" },
            ticks: { autoSkip: false, maxRotation: 0, minRotation: 0, padding: 18, color: "#000", font: { family: FONT, size: 29.5 }, callback: (v: any) => fmt(Number(v), p.dec) } },
          y: { type: "linear", min: p.yr[0], max: p.yr[1],
            afterBuildTicks: (s: any) => { s.ticks = p.yt.map((value) => ({ value })); },
            afterFit: (s: any) => {
              s.width = PADL; s.paddingTop = 0; s.paddingBottom = 0;
              const o = s._computeLabelItems.bind(s);
              s._computeLabelItems = (ca: any) => o(ca).map((i: any) => ({ ...i, options: { ...i.options, translation: [i.options.translation[0], i.options.translation[1] + 2.5] } }));
            },
            border: { display: false },
            grid: { drawOnChartArea: false, drawTicks: true, tickLength: 18, tickWidth: 3.4, tickColor: "#000" },
            ticks: { autoSkip: false, padding: 15, color: "#000", font: { family: FONT, size: 29.5 }, callback: (v: any) => fmt(Number(v), 0) } },
        },
      } as any,
    });
    return () => chart.destroy();
  }, [p]);
  return <canvas ref={ref} width={W + PADL + PADR} height={H + PADT + PADB}
    style={{ position: "absolute", left: colL[p.col] - PADL, top: rowT[p.row] - PADT, width: W + PADL + PADR, height: H + PADT + PADB }} />;
}

const label: React.CSSProperties = { position: "absolute", fontFamily: FONT, fontSize: 53, color: "#000", whiteSpace: "nowrap", lineHeight: 1 };
const sub: React.CSSProperties = { fontStyle: "normal", fontSize: "70%", verticalAlign: "-0.2em", lineHeight: 0 };
const Log = () => <i>log<sub style={sub}>2</sub></i>;

export default function App() {
  return (
    <div style={{ position: "absolute", left: 0, top: 0, width: 2500, height: 1879, background: "#fff", overflow: "hidden" }}>
      {panels.map((p) => <Panel key={p.name} p={p} />)}
      <div style={{ ...label, left: 1295, top: 1849, transform: "translate(-50%,-50%)" }}>mean(<Log />(J),<Log />(D))</div>
      <div style={{ ...label, left: 27, top: 900, transform: "translate(-50%,-50%) rotate(-90deg)" }}><Log />(J)-<Log />(D)</div>
    </div>
  );
}
